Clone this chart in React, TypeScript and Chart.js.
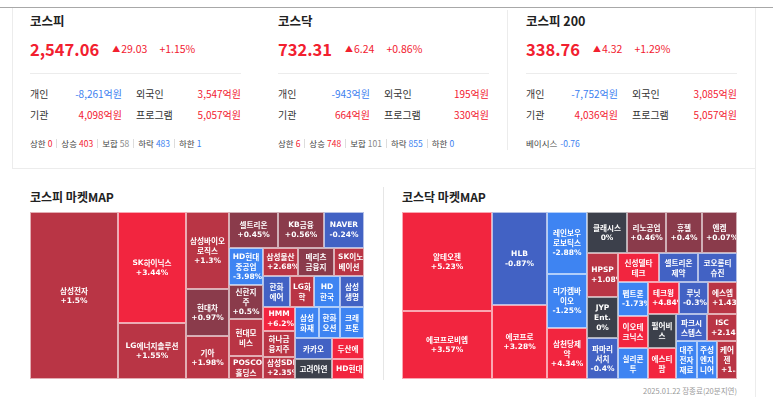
import React, { useEffect, useRef } from "react";
import { Chart, registerables } from "chart.js";
Chart.register(...registerables);

// ---------- index summary data ----------
const indexNames = ["코스피", "코스닥", "코스피 200"];
const indexValues = ["2,547.06", "732.31", "338.76"];
const indexChanges = ["29.03", "6.24", "4.32"];
const indexPcts = ["+1.15%", "+0.86%", "+1.29%"];
const investorLabels = ["개인", "외국인", "기관", "프로그램"];
const investorValues = [
  [-8261, 3547, 4098, 5057],
  [-943, 195, 664, 330],
  [-7752, 3085, 4036, 5057],
];
const breadthLabels = ["상한", "상승", "보합", "하락", "하한"];
const breadthValues = [
  [0, 403, 58, 483, 1],
  [6, 748, 101, 855, 0],
];
const basisLabel = "베이시스";
const basisValue = "-0.76";
const mapTitles = ["코스피 마켓MAP", "코스닥 마켓MAP"];
const footerText = "2025.01.22 장종료(20분지연)";

// ---------- KOSPI map data ----------
const kospiNames = [
  "삼성전자", "SK하이닉스", "LG에너지솔루션", "삼성바이오\n로직스", "현대차", "기아",
  "셀트리온", "KB금융", "NAVER",
  "HD현대\n중공업", "신한지\n주", "현대모\n비스", "POSCO\n홀딩스",
  "삼성물산", "메리츠\n금융지\n주", "SK이노\n베이션",
  "한화\n에어\n로스\n페이스", "LG화\n학", "HD\n한국\n조선\n해양", "삼성\n생명",
  "HMM", "하나금\n융지주", "삼성SDI",
  "삼성\n화재", "한화\n오션", "크래\n프톤",
  "카카오", "고려아연", "두산에\n너빌리\n티", "HD현대",
];
const kospiCaps = [
  14696, 7548, 3808, 3311, 2021, 1849,
  1764, 1656, 1440,
  1258, 1156, 1258, 782,
  980, 1008, 840,
  837, 744, 806, 744,
  768, 832, 704,
  744, 651, 744,
  777, 740, 672, 640,
];
const kospiChanges = [
  1.5, 3.44, 1.55, 1.3, 0.97, 1.98,
  0.45, 0.56, -0.24,
  -3.98, 0.5, 1.2, 1.85,
  2.68, 0.6, 1.4,
  -0.6, 1.3, -1.5, -0.4,
  6.2, 1.1, 2.35,
  -1.2, -2.1, -1.4,
  -0.5, 0, 4.1, 3.2,
];
const kospiRows = [1, 2, 3, 3, 4, 3, 4, 3, 3, 2, 1, 1];
const kospiHideChange = ["현대모\n비스"];

// ---------- KOSDAQ map data ----------
const kosdaqNames = [
  "알테오젠", "에코프로비엠", "HLB", "에코프로",
  "레인보우\n로보틱스", "리가켐바\n이오", "삼천당제\n약",
  "클래시스", "리노공업", "휴젤", "엔켐",
  "HPSP", "JYP\nEnt.", "파마리\n서치",
  "신성델타\n테크", "셀트리온\n제약", "코오롱티\n슈진",
  "펩트론", "이오테\n크닉스", "실리콘\n투",
  "테크윙", "루닛", "에스엠",
  "펄어비\n스", "에스티\n팜",
  "파크시\n스템스", "ISC",
  "대주\n전자\n재료", "주성\n엔지\n니어\n링", "케어\n젠",
];
const kosdaqCaps = [
  8910, 6120, 5115, 4070,
  2480, 2160, 2040,
  1640, 1599, 1476, 1435,
  1364, 1271, 1271,
  1189, 1131, 1131,
  1020, 960, 930,
  992, 928, 928,
  952, 868,
  837, 810,
  798, 760, 760,
];
const kosdaqChanges = [
  5.23, 3.57, -0.87, 3.28,
  -2.88, -1.25, 4.34,
  0, 0.46, 0.4, 0.07,
  1.08, 0, -0.4,
  5.1, -0.55, -0.62,
  -1.73, 3.6, -1.9,
  4.84, -0.3, 1.43,
  0, 3.3,
  -0.5, 2.14,
  -1.6, -1.3, 1.52,
];
const kosdaqRows = [2, 2, 3, 4, 3, 3, 3, 3, 2, 2, 1, 1, 1];
const kosdaqHideChange = ["펄어비\n스"];

// ---------- styles ----------
const RED = "#f2202f";
const BLUE = "#3b80f0";
const FONT = "'Noto Sans CJK KR', 'Noto Sans', sans-serif";
const KFONT = "bold 7.6px 'Noto Sans CJK KR'";
const LFONT = "bold 7.5px 'DejaVu Sans'";

function cellColor(v: number) {
  if (v >= 3) return "#f2253f";
  if (v >= 1) return "#b93545";
  if (v > 0) return "#8a3b4b";
  if (v === 0) return "#3c404b";
  if (v > -1) return "#4262c4";
  return "#3e84f2";
}
function fmtChange(v: number) {
  return (v > 0 ? "+" : "") + v + "%";
}

function layoutRows(values: number[], rows: number[], W: number, H: number) {
  const total = values.reduce((a, b) => a + b, 0);
  const k = (W * H) / total;
  let x = 0, y = 0, w = W, h = H, i = 0;
  const out: { x: number; y: number; w: number; h: number }[] = [];
  for (const n of rows) {
    const row = values.slice(i, i + n);
    const area = row.reduce((a, b) => a + b, 0) * k;
    if (w >= h) {
      const sw = area / h;
      let yy = y;
      for (const v of row) {
        const ch = (v * k) / sw;
        out.push({ x, y: yy, w: sw, h: ch });
        yy += ch;
      }
      x += sw; w -= sw;
    } else {
      const sh = area / w;
      let xx = x;
      for (const v of row) {
        const cw = (v * k) / sh;
        out.push({ x: xx, y, w: cw, h: sh });
        xx += cw;
      }
      y += sh; h -= sh;
    }
    i += n;
  }
  return out;
}

const HANGUL = /[\u1100-\u11FF\u3130-\u318F\uAC00-\uD7AF]/;
function splitRuns(s: string) {
  const out: { k: boolean; t: string }[] = [];
  for (const ch of s) {
    const k = HANGUL.test(ch);
    if (out.length && out[out.length - 1].k === k) out[out.length - 1].t += ch;
    else out.push({ k, t: ch });
  }
  return out;
}
function measureLine(ctx: CanvasRenderingContext2D, s: string) {
  let w = 0;
  for (const r of splitRuns(s)) {
    ctx.font = r.k ? KFONT : LFONT;
    w += ctx.measureText(r.t).width;
  }
  return w;
}
function drawLine(ctx: CanvasRenderingContext2D, s: string, x: number, y: number) {
  for (const r of splitRuns(s)) {
    ctx.font = r.k ? KFONT : LFONT;
    ctx.fillText(r.t, x, y);
    x += ctx.measureText(r.t).width;
  }
}

const treemapPlugin = {
  id: "treemapCells",
  afterDatasetsDraw(chart: any, _args: any, opts: any) {
    const { ctx, chartArea, scales } = chart;
    const W = chartArea.right - chartArea.left;
    const H = chartArea.bottom - chartArea.top;
    const rects = layoutRows(opts.caps, opts.rows, W, H);
    ctx.save();
    rects.forEach((r, i) => {
      const x0 = Math.round(scales.x.getPixelForValue(r.x / W));
      const x1 = Math.round(scales.x.getPixelForValue((r.x + r.w) / W));
      const y0 = Math.round(scales.y.getPixelForValue(r.y / H));
      const y1 = Math.round(scales.y.getPixelForValue((r.y + r.h) / H));
      const w = x1 - x0, h = y1 - y0;
      const v = opts.changes[i];
      ctx.fillStyle = cellColor(v);
      ctx.fillRect(x0, y0, w, h);
      ctx.strokeStyle = "rgba(255,255,255,0.6)";
      ctx.lineWidth = 1;
      ctx.strokeRect(x0 + 0.5, y0 + 0.5, w - 1, h - 1);
      const name: string = opts.names[i];
      let lines = name.split("\n");
      if (!opts.hide.includes(name)) lines.push(fmtChange(v));
      const maxLines = Math.max(1, Math.floor(h / 11));
      lines = lines.slice(0, maxLines);
      ctx.save();
      ctx.beginPath();
      ctx.rect(x0 + 1, y0 + 1, w - 2, h - 2);
      ctx.clip();
      ctx.fillStyle = "#ffffff";
      ctx.textBaseline = "middle";
      const lh = 10;
      const cx = x0 + w / 2, cy = y0 + h / 2;
      let ly = cy - ((lines.length - 1) * lh) / 2;
      for (const ln of lines) {
        const lw = measureLine(ctx, ln);
        const lx = lw <= w - 6 ? cx - lw / 2 : x0 + 4;
        drawLine(ctx, ln, lx, ly + 0.5);
        ly += lh;
      }
      ctx.restore();
    });
    ctx.restore();
  },
};

function TreeMap(props: { left: number; top: number; width: number; height: number; names: string[]; caps: number[]; changes: number[]; rows: number[]; hide: string[] }) {
  const ref = useRef<HTMLCanvasElement>(null);
  useEffect(() => {
    if (!ref.current) return;
    const chart = new Chart(ref.current, {
      type: "scatter",
      data: { datasets: [{ data: [] }] },
      options: {
        animation: false,
        responsive: false,
        events: [],
        layout: { padding: 0 },
        plugins: {
          legend: { display: false },
          tooltip: { enabled: false },
          treemapCells: { names: props.names, caps: props.caps, changes: props.changes, rows: props.rows, hide: props.hide },
        } as any,
        scales: {
          x: { type: "linear", min: 0, max: 1, display: false },
          y: { type: "linear", min: 0, max: 1, reverse: true, display: false },
        },
      },
      plugins: [treemapPlugin as any],
    });
    return () => chart.destroy();
  }, []);
  return (
    <div style={{ position: "absolute", left: props.left, top: props.top, width: props.width, height: props.height }}>
      <canvas ref={ref} width={props.width} height={props.height} style={{ display: "block" }} />
    </div>
  );
}

function fmtWon(v: number) {
  return v.toLocaleString("en-US") + "억원";
}

const abs = (s: React.CSSProperties): React.CSSProperties => ({ position: "absolute", whiteSpace: "nowrap", ...s });

function Panel({ i, x0 }: { i: number; x0: number }) {
  const inv = investorValues[i];
  const col = (v: number) => (v < 0 ? BLUE : RED);
  const rowTops = [87, 108];
  return (
    <>
      <div style={abs({ left: x0, top: 12, fontSize: 12.5, lineHeight: "18px", fontWeight: 700, color: "#222" })}>{indexNames[i]}</div>
      <div style={abs({ left: x0, top: 38, height: 22, display: "flex", alignItems: "center", color: RED })}>
        <span style={{ fontSize: 16.5, fontWeight: 700, lineHeight: "22px" }}>{indexValues[i]}</span>
        <span style={{ fontSize: 8, marginLeft: 13, lineHeight: "22px" }}>▲</span>
        <span style={{ fontSize: 10.5, marginLeft: 1, lineHeight: "22px" }}>{indexChanges[i]}</span>
        <span style={{ fontSize: 10.5, marginLeft: 12, lineHeight: "22px" }}>{indexPcts[i]}</span>
      </div>
      <div style={abs({ left: x0, top: 73, width: 211, height: 1, background: "#ececec" })} />
      {[0, 1].map((r) => (
        <React.Fragment key={r}>
          <div style={abs({ left: x0, top: rowTops[r], fontSize: 10, lineHeight: "14px", color: "#333" })}>{investorLabels[r * 2]}</div>
          <div style={abs({ left: x0, width: 92, top: rowTops[r], fontSize: 10, lineHeight: "14px", textAlign: "right", color: col(inv[r * 2]) })}>{fmtWon(inv[r * 2])}</div>
          <div style={abs({ left: x0 + 106, top: rowTops[r], fontSize: 10, lineHeight: "14px", color: "#333" })}>{investorLabels[r * 2 + 1]}</div>
          <div style={abs({ left: x0, width: 211, top: rowTops[r], fontSize: 10, lineHeight: "14px", textAlign: "right", color: col(inv[r * 2 + 1]) })}>{fmtWon(inv[r * 2 + 1])}</div>
        </React.Fragment>
      ))}
      {i < 2 ? (
        <div style={abs({ left: x0, top: 137, fontSize: 8.5, lineHeight: "12px", color: "#444", display: "flex", alignItems: "center" })}>
          {breadthLabels.map((lb, j) => {
            const v = breadthValues[i][j];
            const c = j < 2 ? RED : j === 2 ? "#888" : BLUE;
            return (
              <React.Fragment key={j}>
                {j > 0 && <span style={{ display: "inline-block", width: 1, height: 9, background: "#ddd", margin: "0 4px 0 4px" }} />}
                <span>{lb}</span>
                <span style={{ color: c, marginLeft: 2 }}>{v}</span>
              </React.Fragment>
            );
          })}
        </div>
      ) : (
        <div style={abs({ left: x0, top: 137, fontSize: 8.5, lineHeight: "12px", color: "#444" })}>
          {basisLabel}
          <span style={{ color: BLUE, marginLeft: 3 }}>{basisValue}</span>
        </div>
      )}
    </>
  );
}

export default function App() {
  useEffect(() => {
    document.body.style.margin = "0";
  }, []);
  return (
    <div style={{ position: "relative", width: 773, height: 397, overflow: "hidden", background: "#fff", fontFamily: FONT }}>
      <div style={abs({ left: 0, top: 7, width: 773, height: 1, background: "#a8a8a8" })} />
      <div style={abs({ left: 12, top: 8, width: 1, height: 160, background: "#ececec" })} />
      <div style={abs({ left: 12, top: 168, width: 744, height: 1, background: "#ececec" })} />
      <div style={abs({ left: 507, top: 10, width: 1, height: 140, background: "#ececec" })} />
      <div style={abs({ left: 755, top: 8, width: 1, height: 389, background: "#ececec" })} />
      <div style={abs({ left: 383, top: 187, width: 1, height: 193, background: "#e6e6e6" })} />
      <Panel i={0} x0={30} />
      <Panel i={1} x0={278} />
      <Panel i={2} x0={526} />
      <div style={abs({ left: 30, top: 188, fontSize: 12, lineHeight: "18px", fontWeight: 700, color: "#222" })}>{mapTitles[0]}</div>
      <div style={abs({ left: 402, top: 188, fontSize: 12, lineHeight: "18px", fontWeight: 700, color: "#222" })}>{mapTitles[1]}</div>
      <TreeMap left={30} top={212} width={334} height={167} names={kospiNames} caps={kospiCaps} changes={kospiChanges} rows={kospiRows} hide={kospiHideChange} />
      <TreeMap left={402} top={212} width={335} height={167} names={kosdaqNames} caps={kosdaqCaps} changes={kosdaqChanges} rows={kosdaqRows} hide={kosdaqHideChange} />
      <div style={abs({ left: 600, width: 137, top: 385, fontSize: 7.5, lineHeight: "12px", textAlign: "right", color: "#999" })}>{footerText}</div>
    </div>
  );
}
